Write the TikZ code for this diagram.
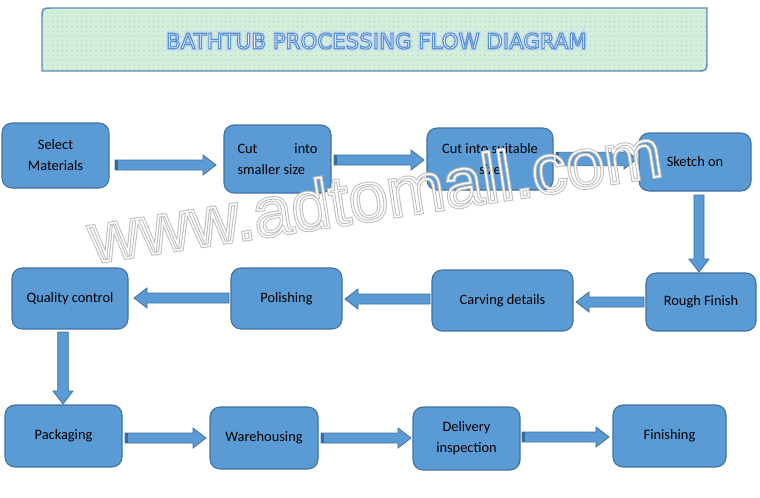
\documentclass[tikz,border=0pt]{standalone}
\usepackage{fontspec}
\setmainfont{Carlito}
\newfontfamily\titlefont{DejaVu Sans}
\newfontfamily\wmfont{Liberation Sans}
\usetikzlibrary{calc,patterns.meta}
\definecolor{boxblue}{HTML}{5B9BD5}
\definecolor{boxedge}{HTML}{41719C}
\definecolor{tailblue}{HTML}{3A6A96}
\definecolor{bannerfill}{HTML}{D3EFDB}
\definecolor{bannerdot}{HTML}{9CCDB0}
\definecolor{banneredge}{HTML}{5B8DB6}
\definecolor{titleedge}{HTML}{4F86C6}
\definecolor{wmgray}{HTML}{BEBEBE}
\newcommand\strokeon[1]{\special{pdf:literal direct #1}}
\newcommand\strokeoff{\special{pdf:literal direct 0 Tr}}
\tikzset{
  stepbox/.style={draw=boxedge, fill=boxblue, line width=0.8pt, rounded corners=7.5pt,
    inner sep=0pt, align=center, font=\fontsize{10.8}{15.75}\selectfont, text=black},
  fatarrow/.style={draw=boxedge, fill=boxblue, line width=0.6pt, line join=miter},
  titletext/.style={font=\titlefont\fontsize{16}{18}\selectfont, inner sep=0pt},
  wmtext/.style={font=\wmfont\fontsize{52}{56}\selectfont, inner sep=0pt, anchor=base west, rotate=8.7},
}
\newcommand\bx[6]{\node[stepbox, minimum width={(#4-#2)*0.75pt}, minimum height={(#5-#3)*0.75pt}] (#1) at ({(#2+#4)/2},{(#3+#5)/2}) {#6};}
\newcommand\fatarrow[3][3.75pt]{%
  \coordinate (fa-h) at ($(#3)!9.75pt!(#2)$);
  \draw[fatarrow] ($(#2)!#1!90:(#3)$) -- ($(fa-h)!#1!90:(#3)$) -- ($(fa-h)!7.5pt!90:(#3)$) -- (#3)
    -- ($(fa-h)!7.5pt!-90:(#3)$) -- ($(fa-h)!#1!-90:(#3)$) -- ($(#2)!#1!-90:(#3)$) -- cycle;}
\newcommand\tailmark[3][3.75pt]{%
  \coordinate (fa-t) at ($(#2)!2.4pt!(#3)$);
  \fill[tailblue] ($(#2)!#1!90:(#3)$) -- ($(fa-t)!#1!90:(#3)$) -- ($(fa-t)!#1!-90:(#3)$) -- ($(#2)!#1!-90:(#3)$) -- cycle;}
\begin{document}
\begin{tikzpicture}[x=0.75pt, y=-0.75pt]
\useasboundingbox (0,0) rectangle (760,497);
\fill[white] (0,0) rectangle (760,497);
% banner
\fill[bannerfill] (42,71) -- (42,19) .. controls (42,8) and (42,8) .. (53,8) -- (707,8) -- (707,60) .. controls (707,71) and (707,71) .. (696,71) -- cycle;
\fill[pattern={Dots[radius=0.45pt,distance=3.6pt]}, pattern color=bannerdot] (42,71) -- (42,19) .. controls (42,8) and (42,8) .. (53,8) -- (707,8) -- (707,60) .. controls (707,71) and (707,71) .. (696,71) -- cycle;
\draw[banneredge, line width=1.1pt] (42,71) -- (42,19) .. controls (42,8) and (42,8) .. (53,8) -- (707,8) -- (707,60) .. controls (707,71) and (707,71) .. (696,71) -- cycle;
\coordinate (titlepos) at (376.5,41);
\node[titletext, text=titleedge!30] (title-glow) at (titlepos) {\strokeon{1 Tr 3 w}BATHTUB PROCESSING FLOW DIAGRAM\strokeoff};
\node[titletext, text=white] (title) at (titlepos) {\strokeon{2 Tr 0.9 w 0.36 0.58 0.82 RG}BATHTUB PROCESSING FLOW DIAGRAM\strokeoff};
% boxes
\bx{s1}{2}{123}{109}{188}{Select\\Materials}
\bx{s2}{224}{125}{331}{193}{\parbox{60pt}{Cut\hfill into\\smaller size}}
\bx{s3}{427}{128}{553}{190}{Cut into suitable\\size}
\bx{s4}{639}{133}{751}{191}{Sketch on}
\bx{s5}{646}{273}{756}{331}{Rough Finish}
\bx{s6}{432}{270}{573}{331}{Carving details}
\bx{s7}{231}{268}{342}{329}{Polishing}
\bx{s8}{12}{268}{128}{329}{Quality control}
\bx{s9}{5}{405}{122}{467}{Packaging}
\bx{s10}{210}{407}{318}{469}{Warehousing}
\bx{s11}{413}{407}{520}{470}{Delivery\\inspection}
\bx{s12}{613}{405}{726}{467}{Finishing}
% arrow end points
\coordinate (a1s) at (115,165);  \coordinate (a1e) at (216,165);
\coordinate (a2s) at (334,160);  \coordinate (a2e) at (424,160);
\coordinate (a3s) at (556,159);  \coordinate (a3e) at (637,159);
\coordinate (a4s) at (699,195);  \coordinate (a4e) at (699,272);
\coordinate (a5s) at (644,302);  \coordinate (a5e) at (576,302);
\coordinate (a6s) at (430,299);  \coordinate (a6e) at (345,299);
\coordinate (a7s) at (229,298);  \coordinate (a7e) at (134,298);
\coordinate (a8s) at (63,332);   \coordinate (a8e) at (63,404);
\coordinate (a9s) at (125,438);  \coordinate (a9e) at (206,438);
\coordinate (a10s) at (321,438); \coordinate (a10e) at (411,438);
\coordinate (a11s) at (522,437); \coordinate (a11e) at (609,437);
\fatarrow{a1s}{a1e} \tailmark{a1s}{a1e}
\fatarrow{a2s}{a2e} \tailmark{a2s}{a2e}
\fatarrow[5pt]{a3s}{a3e} \tailmark[5pt]{a3s}{a3e}
\fatarrow{a4s}{a4e}
\fatarrow{a5s}{a5e}
\fatarrow{a6s}{a6e}
\fatarrow{a7s}{a7e}
\fatarrow[4pt]{a8s}{a8e}
\fatarrow{a9s}{a9e} \tailmark{a9s}{a9e}
\fatarrow{a10s}{a10e} \tailmark{a10s}{a10e}
\fatarrow{a11s}{a11e} \tailmark{a11s}{a11e}
% watermark (outline only)
\coordinate (wmpos) at (93,263);
\node[wmtext, text=wmgray] (wm-edge) at (wmpos) {\strokeon{1 Tr 2.6 w}www.adtomall.com\strokeoff};
\node[wmtext, text=white] (wm) at (wmpos) {\strokeon{1 Tr 1.1 w}www.adtomall.com\strokeoff};
\end{tikzpicture}
\end{document}
